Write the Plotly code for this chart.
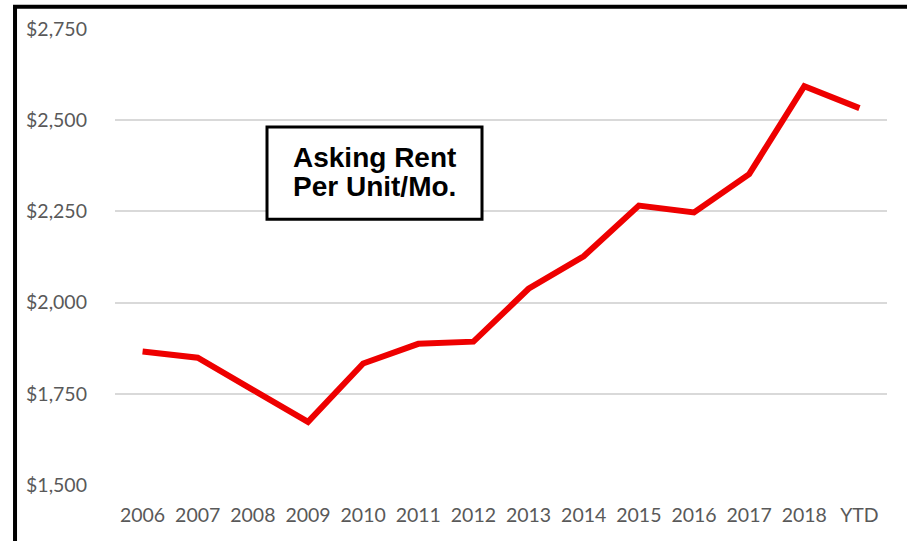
import plotly.graph_objects as go

categories = ["2006", "2007", "2008", "2009", "2010", "2011", "2012",
              "2013", "2014", "2015", "2016", "2017", "2018", "YTD"]
asking_rent = [1866, 1849, 1761, 1673, 1833, 1887, 1893,
               2038, 2127, 2266, 2247, 2352, 2593, 2533]
y_ticks = [1500, 1750, 2000, 2250, 2500, 2750]
y_tick_labels = ["$1,500", "$1,750", "$2,000", "$2,250", "$2,500", "$2,750"]
label_lines = ["Asking Rent", "Per Unit/Mo."]

fig = go.Figure()
fig.add_trace(go.Scatter(
    x=categories, y=asking_rent, mode="lines",
    line=dict(color="#ee0000", width=6),
    hoverinfo="x+y",
))

tick_font = dict(family="Lato, Calibri, sans-serif", size=19.5, color="#595959")

fig.update_layout(
    width=907, height=541,
    margin=dict(l=115, r=20, t=29, b=56, autoexpand=False),
    paper_bgcolor="white", plot_bgcolor="white",
    showlegend=False,
    xaxis=dict(
        type="category", range=[-0.5, len(categories) - 0.5],
        showgrid=False, zeroline=False, showline=False,
        ticks="", tickfont=tick_font, ticklabelstandoff=16,
        fixedrange=True,
    ),
    yaxis=dict(
        range=[1500, 2750], tickvals=y_ticks, ticktext=y_tick_labels,
        showgrid=True, gridcolor="#d9d9d9", gridwidth=2,
        zeroline=False, showline=False, ticks="",
        tickfont=tick_font, ticklabelstandoff=27,
        fixedrange=True,
    ),
    shapes=[
        # outer frame (left and top edges)
        dict(type="line", xref="paper", yref="paper",
             x0=-0.1295, x1=-0.1295, y0=-0.2, y1=1.049,
             line=dict(color="black", width=4)),
        dict(type="line", xref="paper", yref="paper",
             x0=-0.1321, x1=1.1, y0=1.049, y1=1.049,
             line=dict(color="black", width=4)),
        # label box
        dict(type="rect", xref="paper", yref="paper",
             x0=0.1969, x1=0.4754, y0=0.583, y1=0.785,
             line=dict(color="black", width=3), fillcolor="white"),
    ],
    annotations=[
        dict(xref="paper", yref="paper", x=0.336, y=yy,
             text="<b>" + txt + "</b>", showarrow=False,
             font=dict(family="Liberation Sans, Arial, sans-serif", size=28, color="black"),
             align="center", xanchor="center", yanchor="middle")
        for txt, yy in zip(label_lines, [0.718, 0.654])
    ],
)

fig.write_html("out.html")
